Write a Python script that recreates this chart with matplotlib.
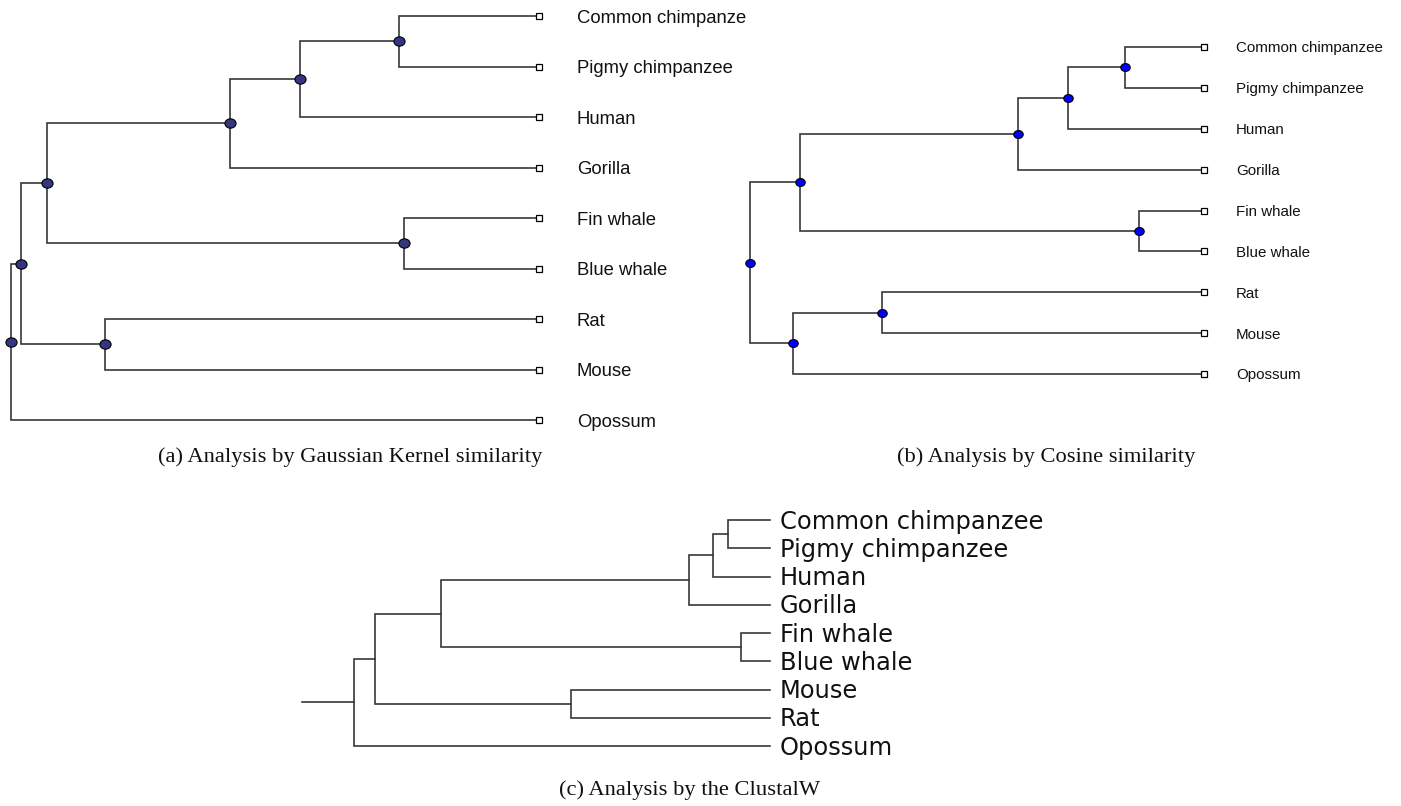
import numpy as np
import matplotlib
matplotlib.use("Agg")
import matplotlib.pyplot as plt
from matplotlib.path import Path
from matplotlib.transforms import Affine2D
import matplotlib.transforms as mtrans

# ---------------- data ----------------
leaves_a = ["Common chimpanze", "Pigmy chimpanzee", "Human", "Gorilla",
            "Fin whale", "Blue whale", "Rat", "Mouse", "Opossum"]
# merges: (child1, child2, height); leaves are 0..8, new nodes 9..
merges_a = [(0, 1, 0.265), (9, 2, 0.453), (10, 3, 0.585), (4, 5, 0.256),
            (11, 12, 0.932), (6, 7, 0.822), (13, 14, 0.981), (15, 8, 1.000)]

leaves_b = ["Common chimpanzee", "Pigmy chimpanzee", "Human", "Gorilla",
            "Fin whale", "Blue whale", "Rat", "Mouse", "Opossum"]
merges_b = [(0, 1, 0.174), (9, 2, 0.300), (10, 3, 0.410), (4, 5, 0.143),
            (11, 12, 0.890), (6, 7, 0.709), (14, 8, 0.905), (13, 15, 1.000)]

leaves_c = ["Common chimpanzee", "Pigmy chimpanzee", "Human", "Gorilla",
            "Fin whale", "Blue whale", "Mouse", "Rat", "Opossum"]
merges_c = [(0, 1, 0.101), (9, 2, 0.137), (10, 3, 0.195), (4, 5, 0.070),
            (11, 12, 0.791), (6, 7, 0.478), (13, 14, 0.950), (15, 8, 1.000)]
root_branch_c = 1.125

captions = ["(a) Analysis by Gaussian Kernel similarity",
            "(b) Analysis by Cosine similarity",
            "(c) Analysis by the ClustalW"]

# ---------------- figure ----------------
W, H = 1401, 806
fig = plt.figure(figsize=(W / 100, H / 100), dpi=100)

LINE_COL = "#383838"
ellipse = Path.unit_circle().transformed(Affine2D().scale(1.0, 0.84))


def add_axes_px(x0, y0, x1, y1):
    return fig.add_axes([x0 / W, 1 - y1 / H, (x1 - x0) / W, (y1 - y0) / H])


def draw_tree(ax, leaves, merges, node_color=None, node_ms=7, leaf_box=False,
              label_dx=0, fontsize=12, family="Liberation Sans", root_branch=None):
    n = len(leaves)
    xs = {i: 0.0 for i in range(n)}
    ys = {i: float(i) for i in range(n)}
    for k, (a, b, h) in enumerate(merges):
        nid = n + k
        xs[nid] = h
        ys[nid] = (ys[a] + ys[b]) / 2.0
        ax.plot([xs[a], h, h, xs[b]], [ys[a], ys[a], ys[b], ys[b]],
                color=LINE_COL, lw=1.2, solid_joinstyle="miter",
                clip_on=False, zorder=2)
    root = n + len(merges) - 1
    if root_branch is not None:
        ax.plot([root_branch, xs[root]], [ys[root], ys[root]],
                color=LINE_COL, lw=1.2, clip_on=False, zorder=2)
    if node_color is not None:
        nx = [xs[n + k] for k in range(len(merges))]
        ny = [ys[n + k] for k in range(len(merges))]
        ax.plot(nx, ny, ls="none", marker=ellipse, ms=node_ms,
                mfc=node_color, mec="black", mew=0.8, clip_on=False, zorder=4)
    if leaf_box:
        ax.plot([0] * n, list(range(n)), ls="none", marker="s", ms=4.6,
                mfc="white", mec="black", mew=0.9, clip_on=False, zorder=4)
    tr = mtrans.offset_copy(ax.transData, fig=fig, x=label_dx,
                            y=-0.36 * fontsize, units="points")
    for i, lab in enumerate(leaves):
        ax.text(0, i, lab, transform=tr, ha="left", va="baseline",
                fontsize=fontsize, family=family, color="#111111")
    ax.set_xlim(1.0, 0.0)
    ax.set_ylim(n - 1, 0)
    ax.axis("off")


ax_a = add_axes_px(11, 16, 539, 420)
draw_tree(ax_a, leaves_a, merges_a, node_color="#363680", node_ms=8.0,
          leaf_box=True, label_dx=38 * 0.72, fontsize=13.3)

ax_b = add_axes_px(750, 47, 1204, 374)
draw_tree(ax_b, leaves_b, merges_b, node_color="#0000ff", node_ms=6.8,
          leaf_box=True, label_dx=32 * 0.72, fontsize=10.9)

ax_c = add_axes_px(354, 520, 770, 746)
draw_tree(ax_c, leaves_c, merges_c, node_color=None, leaf_box=False,
          label_dx=10 * 0.72, fontsize=17.4, family="DejaVu Sans",
          root_branch=root_branch_c)

cap_pos = [(350, 457), (1046, 457), (690, 790)]
for (cx, cy), cap in zip(cap_pos, captions):
    fig.text(cx / W, 1 - cy / H, cap, ha="center", va="center",
             fontsize=16.2, family="Liberation Serif", color="#111111")

fig.savefig("out.png", dpi=100)
